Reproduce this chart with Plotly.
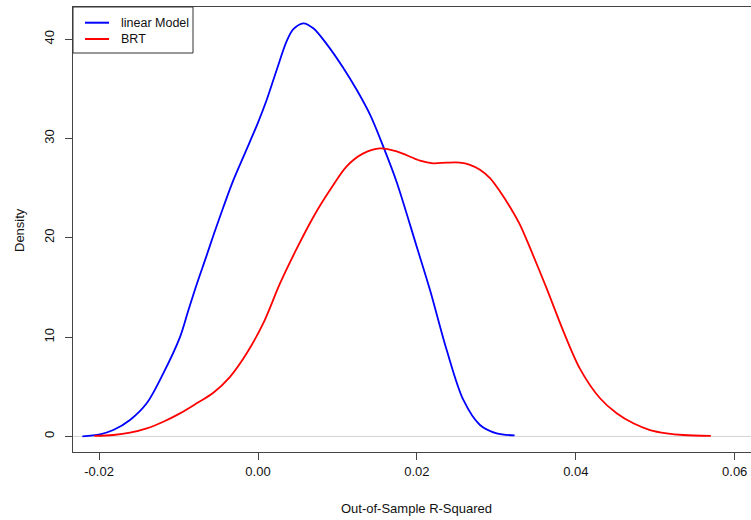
import plotly.graph_objects as go

# ---- data ----
series_names = ["linear Model", "BRT"]

lin_x = [-0.0221, -0.01989, -0.01821, -0.01611, -0.01401, -0.01192, -0.00982, -0.0088,
         -0.00772, -0.0066, -0.0055, -0.0044, -0.0031, -0.0016, 0.0, 0.0011,
         0.00235, 0.00361, 0.00445, 0.0057, 0.00696, 0.00865, 0.01074, 0.01242,
         0.01416, 0.01576, 0.01746, 0.01998, 0.02165, 0.02375, 0.02585, 0.02794,
         0.03004, 0.0323]
lin_y = [0.0, 0.21, 0.64, 1.65, 3.33, 6.35, 10.0, 12.6,
         15.3, 17.9, 20.5, 23.0, 25.8, 28.6, 31.6, 33.9,
         36.9, 39.8, 41.0, 41.6, 41.1, 39.5, 37.1, 34.9,
         32.3, 29.2, 25.6, 19.1, 14.74, 8.7, 3.67, 1.15,
         0.31, 0.1]

brt_x = [-0.0206, -0.01821, -0.01611, -0.01401, -0.01192, -0.00982, -0.00772, -0.00562,
         -0.00352, -0.00142, 0.00067, 0.00277, 0.00487, 0.00697, 0.00906, 0.01116,
         0.01326, 0.01536, 0.01746, 0.02039, 0.02206, 0.02375, 0.02542, 0.02668,
         0.02794, 0.0292, 0.03046, 0.03172, 0.03298, 0.03423, 0.03633, 0.03843,
         0.04053, 0.04305, 0.04514, 0.04724, 0.04934, 0.05144, 0.05354, 0.0570]
brt_y = [0.05, 0.14, 0.37, 0.81, 1.48, 2.32, 3.33, 4.4,
         6.0, 8.37, 11.4, 15.4, 18.9, 22.1, 24.8, 27.2,
         28.5, 29.0, 28.7, 27.77, 27.5, 27.57, 27.57, 27.35,
         26.85, 26.0, 24.66, 23.1, 21.3, 19.0, 14.9, 10.6,
         6.8, 3.84, 2.33, 1.32, 0.64, 0.31, 0.14, 0.05]

x_ticks = [-0.02, 0.00, 0.02, 0.04, 0.06]
x_tick_labels = ["-0.02", "0.00", "0.02", "0.04", "0.06"]
y_ticks = [0, 10, 20, 30, 40]
y_tick_labels = ["0", "10", "20", "30", "40"]
colors = ["#0000FF", "#FF0000"]

FONT = "Liberation Sans, Arial, sans-serif"

fig = go.Figure()
fig.add_trace(go.Scatter(x=lin_x, y=lin_y, mode="lines", name=series_names[0],
                         line=dict(color=colors[0], width=1.8, shape="spline", smoothing=0.9),
                         showlegend=False))
fig.add_trace(go.Scatter(x=brt_x, y=brt_y, mode="lines", name=series_names[1],
                         line=dict(color=colors[1], width=1.8, shape="spline", smoothing=0.9),
                         showlegend=False))

W, H = 751, 520
L, R, T, B = 73, 0, 7, 68
pw, ph = W - L - R, H - T - B

def px(xp):
    return (xp - L) / pw

def py(yp):
    return (H - B - yp) / ph

shapes = [
    # zero line
    dict(type="line", xref="paper", yref="y", x0=0, x1=1, y0=0, y1=0,
         line=dict(color="#D3D3D3", width=1), layer="below"),
    # legend box
    dict(type="rect", xref="paper", yref="paper", x0=px(73), x1=px(193), y0=py(53), y1=py(7),
         line=dict(color="#333333", width=1), fillcolor="white"),
]
annotations = []
for i, (nm, c) in enumerate(zip(series_names, colors)):
    yy = [22.7, 39.0][i]
    shapes.append(dict(type="line", xref="paper", yref="paper", x0=px(85), x1=px(109),
                       y0=py(yy), y1=py(yy), line=dict(color=c, width=2)))
    annotations.append(dict(text=nm, xref="paper", yref="paper", x=px(119), y=py(yy),
                            xanchor="left", yanchor="middle", showarrow=False,
                            font=dict(family=FONT, size=12.5, color="#111111")))

annotations.append(dict(text="Out-of-Sample R-Squared", xref="paper", yref="paper",
                        x=px(416), y=py(508), xanchor="center", yanchor="middle",
                        showarrow=False, font=dict(family=FONT, size=13, color="#111111")))
annotations.append(dict(text="Density", xref="paper", yref="paper", textangle=-90,
                        x=px(20), y=py(230), xanchor="center", yanchor="middle",
                        showarrow=False, font=dict(family=FONT, size=13, color="#111111")))

fig.update_layout(
    width=W, height=H,
    margin=dict(l=L, r=R, t=T, b=B, pad=0),
    paper_bgcolor="white", plot_bgcolor="white",
    showlegend=False,
    shapes=shapes, annotations=annotations,
    font=dict(family=FONT, size=13, color="#111111"),
)
fig.update_xaxes(range=[-0.023285, 0.062052], showgrid=False, zeroline=False,
                 showline=True, mirror=True, linecolor="#444444", linewidth=1,
                 ticks="outside", ticklen=7, tickcolor="#444444",
                 tickvals=x_ticks, ticktext=x_tick_labels,
                 tickfont=dict(family=FONT, size=13, color="#111111"))
fig.update_yaxes(range=[-1.571, 43.24], showgrid=False, zeroline=False,
                 showline=True, mirror=False, linecolor="#444444", linewidth=1,
                 ticks="outside", ticklen=7, tickcolor="#444444",
                 tickvals=y_ticks, ticktext=y_tick_labels, tickangle=-90,
                 ticklabelstandoff=6,
                 tickfont=dict(family=FONT, size=13, color="#111111"))

fig.write_html("out.html")
